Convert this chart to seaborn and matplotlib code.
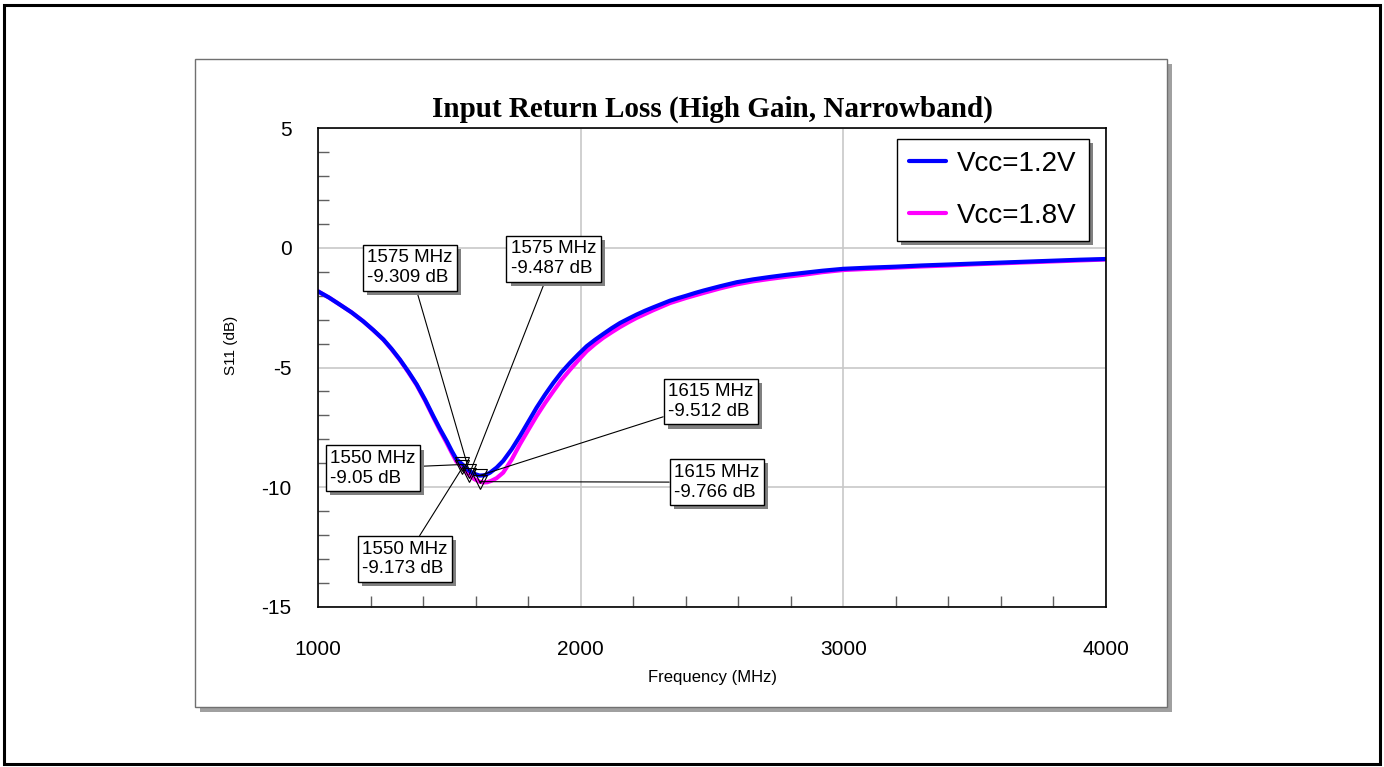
import numpy as np
import pandas as pd
import matplotlib
matplotlib.use("Agg")
import matplotlib.pyplot as plt
import matplotlib.patheffects as pe
from matplotlib.patches import Rectangle
from matplotlib.lines import Line2D
import seaborn as sns

# ---------------- data ----------------
freq_12 = [1000, 1042, 1084, 1128, 1172, 1210, 1249, 1280, 1312, 1344, 1376, 1408, 1439, 1465,
           1490, 1510, 1527, 1550, 1575, 1595, 1615, 1635, 1655, 1680, 1705, 1737, 1769, 1800,
           1832, 1864, 1896, 1927, 1959, 1991, 2023, 2055, 2086, 2118, 2150, 2182, 2213, 2245,
           2276, 2308, 2340, 2372, 2403, 2435, 2467, 2530, 2594, 2657, 2721, 2784, 2847, 2920,
           3000, 3100, 3200, 3300, 3400, 3500, 3600, 3700, 3800, 3900, 4000]
s11_12 = [-1.82, -2.08, -2.38, -2.70, -3.07, -3.43, -3.83, -4.22, -4.67, -5.17, -5.71, -6.35, -7.03, -7.58,
          -8.07, -8.50, -8.83, -9.05, -9.309, -9.44, -9.512, -9.50, -9.39, -9.18, -8.90, -8.42, -7.86, -7.28,
          -6.68, -6.14, -5.64, -5.20, -4.81, -4.45, -4.11, -3.84, -3.60, -3.36, -3.14, -2.96, -2.79, -2.63,
          -2.49, -2.35, -2.21, -2.10, -2.00, -1.89, -1.79, -1.61, -1.44, -1.32, -1.22, -1.13, -1.05, -0.96,
          -0.88, -0.83, -0.79, -0.74, -0.70, -0.66, -0.62, -0.58, -0.54, -0.50, -0.47]

freq_18 = [1000, 1042, 1084, 1128, 1172, 1210, 1249, 1280, 1312, 1344, 1376, 1408, 1439, 1465,
           1490, 1510, 1527, 1550, 1575, 1595, 1615, 1629, 1645, 1660, 1680, 1705, 1737, 1769,
           1800, 1832, 1864, 1896, 1927, 1959, 1991, 2023, 2055, 2086, 2118, 2150, 2182, 2213,
           2276, 2340, 2403, 2467, 2530, 2594, 2657, 2721, 2784, 2847, 2920, 3000, 3100, 3200,
           3300, 3400, 3500, 3600, 3700, 3800, 3900, 4000]
s11_18 = [-1.82, -2.08, -2.38, -2.70, -3.07, -3.44, -3.84, -4.24, -4.69, -5.20, -5.74, -6.39, -7.08, -7.64,
          -8.15, -8.58, -8.93, -9.173, -9.487, -9.66, -9.766, -9.80, -9.79, -9.73, -9.62, -9.39, -8.85, -8.20,
          -7.62, -7.03, -6.49, -5.99, -5.52, -5.10, -4.70, -4.32, -4.02, -3.76, -3.53, -3.31, -3.11, -2.93,
          -2.61, -2.31, -2.09, -1.89, -1.70, -1.53, -1.40, -1.30, -1.21, -1.13, -1.02, -0.93, -0.88, -0.83,
          -0.78, -0.74, -0.69, -0.65, -0.61, -0.57, -0.53, -0.49]

series_names = ["Vcc=1.2V", "Vcc=1.8V"]
series_colors = ["#0000ff", "#ff00ff"]

marker_freqs = [1550, 1550, 1575, 1575, 1615, 1615]
marker_vals = [-9.05, -9.173, -9.309, -9.487, -9.512, -9.766]

title = "Input Return Loss (High Gain, Narrowband)"
xlabel = "Frequency (MHz)"
ylabel = "S11 (dB)"
xticks = [1000, 2000, 3000, 4000]
yticks = [-15, -10, -5, 0, 5]

# label box centres (layout only)
label_pos = [(1209, -9.21), (1331, -13.0), (1350, -0.83), (1898, -0.46), (2496, -6.42), (2519, -9.79)]

# ---------------- style ----------------
sns.set_style("ticks")
plt.rcParams["font.family"] = ["Liberation Sans", "DejaVu Sans"]
plt.rcParams["axes.unicode_minus"] = False
plt.rcParams["text.color"] = "black"
plt.rcParams["axes.labelcolor"] = "black"
plt.rcParams["xtick.labelcolor"] = "black"
plt.rcParams["ytick.labelcolor"] = "black"

W, H = 1384, 767
fig = plt.figure(figsize=(W / 100, H / 100), dpi=100)

def fx(px):
    return px / W

def fy(py):
    return 1 - py / H

# outer border
fig.add_artist(Rectangle((fx(4), fy(764)), fx(1380) - fx(4), fy(4.5) - fy(764),
                         transform=fig.transFigure, fill=False, ec="black", lw=2.2, zorder=-3))
# panel shadow + panel
px0, py0, px1, py1 = 195, 59, 1167, 707
fig.add_artist(Rectangle((fx(px0 + 5), fy(py1 + 5)), fx(px1 - px0), fy(py0) - fy(py1),
                         transform=fig.transFigure, fc="#a0a0a0", ec="none", zorder=-2))
fig.add_artist(Rectangle((fx(px0), fy(py1)), fx(px1 - px0), fy(py0) - fy(py1),
                         transform=fig.transFigure, fc="white", ec="#707070", lw=1, zorder=-1))

ax = fig.add_axes([fx(318), fy(607), fx(1106) - fx(318), fy(128) - fy(607)])
ax.set_facecolor("white")

df = pd.concat([
    pd.DataFrame({"freq": freq_12, "s11": s11_12, "series": series_names[0]}),
    pd.DataFrame({"freq": freq_18, "s11": s11_18, "series": series_names[1]}),
])
sns.lineplot(data=df, x="freq", y="s11", hue="series", hue_order=series_names[::-1],
             palette=dict(zip(series_names, series_colors)), lw=3, estimator=None,
             sort=False, ax=ax, legend=False)
for ln in ax.lines:
    ln.set_solid_joinstyle("round")

ax.plot(marker_freqs, marker_vals, "v", ms=10, mfc="none", mec="black", mew=0.8, zorder=5)

ax.set_xlim(1000, 4000)
ax.set_ylim(-15, 5)
ax.set_xticks(xticks)
ax.set_xticks(np.arange(1000, 4001, 200), minor=True)
ax.set_yticks(yticks)
ax.set_yticks(np.arange(-15, 6, 1), minor=True)
ax.tick_params(which="major", length=0, labelsize=15, labelcolor="black")
ax.tick_params(axis="x", which="major", pad=24)
ax.tick_params(axis="y", which="major", pad=19)
ax.tick_params(which="minor", direction="in", length=8, width=1, color="#606060")
ax.grid(True, which="major", color="#c8c8c8", lw=1.2)
ax.set_axisbelow(True)
for s in ax.spines.values():
    s.set_color("black")
    s.set_linewidth(1.2)
    s.set_zorder(6)

ax.set_xlabel(xlabel, fontsize=12, color="black")
ax.set_ylabel(ylabel, fontsize=11, color="black")
ax.xaxis.set_label_coords(0.5, -0.131)
ax.yaxis.set_label_coords(-0.102, 0.547)

ax.text(0.5, 1.040, title, transform=ax.transAxes, ha="center", va="center", color="black",
        fontsize=21, fontweight="bold", family=["Liberation Serif", "DejaVu Serif"])

shadow = [pe.SimplePatchShadow(offset=(3, -3), shadow_rgbFace="#808080", alpha=1), pe.Normal()]

for f, v, (tx, ty) in zip(marker_freqs, marker_vals, label_pos):
    ann = ax.annotate(f"{f} MHz\n{v:g} dB", xy=(f, v), xytext=(tx, ty), textcoords="data",
                      ha="center", va="center", multialignment="left", fontsize=13.5, color="black",
                      bbox=dict(boxstyle="square,pad=0.25", fc="white", ec="black", lw=1),
                      arrowprops=dict(arrowstyle="-", color="black", lw=0.8, shrinkA=0, shrinkB=0),
                      zorder=7)
    ann.get_bbox_patch().set_path_effects(shadow)

handles = [Line2D([], [], color=c, lw=3) for c in series_colors]
leg = ax.legend(handles, series_names, loc="upper right", bbox_to_anchor=(0.978, 0.977),
                fontsize=20, frameon=True, fancybox=False, edgecolor="black", framealpha=1,
                borderaxespad=0, handlelength=1.35, handletextpad=0.4, labelspacing=0.95,
                borderpad=0.42, labelcolor="black")
leg.get_frame().set_linewidth(1)
leg.get_frame().set_path_effects(shadow)
leg.set_zorder(8)

fig.savefig("out.png", dpi=100)
